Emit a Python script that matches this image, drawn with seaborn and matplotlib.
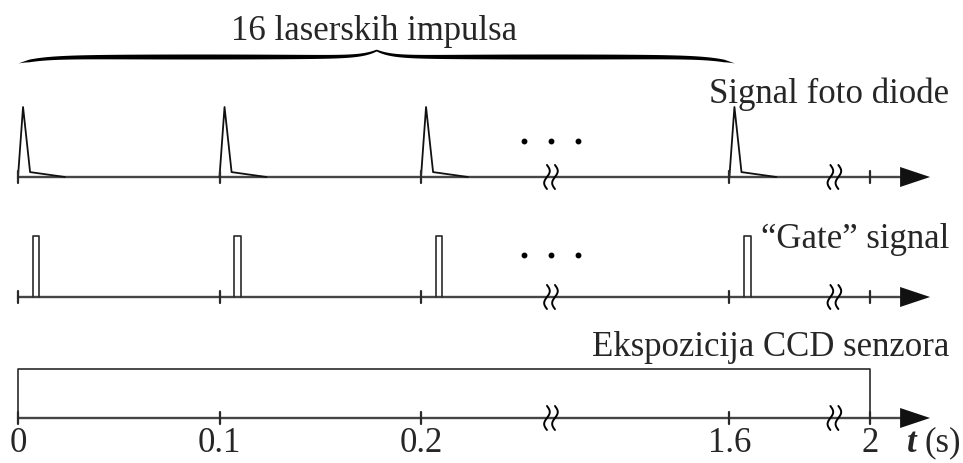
import numpy as np
import pandas as pd
import matplotlib
matplotlib.use('Agg')
import matplotlib.pyplot as plt
import seaborn as sns

# Vremenski dijagram: impulsi lasera, "gate" signal i ekspozicija CCD-a
pulse_times = [0.0, 0.1, 0.2, 1.6]          # s
tick_times = [0.0, 0.1, 0.2, 1.6, 2.0]
tick_labels = ['0', '0.1', '0.2', '1.6', '2']
exposure_window = [0.0, 2.0]

# oblik impulsa foto diode: pomak od pocetka impulsa (s) i relativna amplituda
pd_dt = [0.0, 0.0025, 0.006, 0.0233]
pd_amp = [0.0, 1.0, 0.07, 0.0]

gate_delay = 0.0074    # s
gate_width = 0.0032    # s

row_labels = ['Signal foto diode', '\u201cGate\u201d signal', 'Ekspozicija CCD senzora']
brace_label = '16 laserskih impulsa'

# --- raspored (prekinuta vremenska os) ---
W, H = 963, 463
PX = 2015.0                  # px po sekundi na linearnim dijelovima
X0 = 18                      # px gdje je t = 0
breaks = [(0.2645, 1.5127), (1.6521, 1.9826)]
rows_y = [177, 297, 418]
sig_h = [70, 61, 49]


def fwd(t):
    t = np.asarray(t, dtype=float)
    u = t.copy()
    for a, b in breaks:
        u = u - 0.999 * (np.clip(t, a, b) - a)
    return u


_anchor_t = np.array([-10.0] + [v for ab in breaks for v in ab] + [10.0])
_anchor_u = fwd(_anchor_t)


def inv(u):
    return np.interp(np.asarray(u, dtype=float), _anchor_u, _anchor_t)


def shift(t, dpx):
    return inv(fwd(t) + np.asarray(dpx, dtype=float) / PX)


sns.set_theme(style='white')
plt.rcParams['font.family'] = ['Liberation Serif', 'DejaVu Serif']

fig = plt.figure(figsize=(W / 100, H / 100), dpi=100)
ax = fig.add_axes([0, 0, 1, 1])
ax.set_xscale('function', functions=(fwd, inv))

AX_C = '#454545'
FS = 25

# signali kao tablica za seaborn
recs = []
for i, t0 in enumerate(pulse_times):
    for dt, a in zip(pd_dt, pd_amp):
        recs.append({'sig': 'pd', 'pulse': i, 't': t0 + dt, 'y': rows_y[0] - a * sig_h[0]})
    g0 = t0 + gate_delay
    for tt, a in zip([g0, g0, g0 + gate_width, g0 + gate_width], [0, 1, 1, 0]):
        recs.append({'sig': 'gate', 'pulse': i, 't': tt, 'y': rows_y[1] - a * sig_h[1]})
e0, e1 = exposure_window
for tt, a in zip([e0, e0, e1, e1], [0, 1, 1, 0]):
    recs.append({'sig': 'exp', 'pulse': 0, 't': tt, 'y': rows_y[2] - a * sig_h[2]})
df = pd.DataFrame(recs)

sns.lineplot(data=df[df.sig == 'pd'], x='t', y='y', units='pulse', estimator=None,
             sort=False, color='#111111', lw=1.3, ax=ax, legend=False)
sns.lineplot(data=df[df.sig == 'gate'], x='t', y='y', units='pulse', estimator=None,
             sort=False, color='#2a2a2a', lw=1.2, ax=ax, legend=False)
sns.lineplot(data=df[df.sig == 'exp'], x='t', y='y', units='pulse', estimator=None,
             sort=False, color='#2a2a2a', lw=1.2, ax=ax, legend=False)

# osi, oznake, prekidi i strelice
arrow_base = shift(tick_times[-1], 30)
arrow_tip = shift(tick_times[-1], 60)
for r, y0 in enumerate(rows_y):
    ax.plot([tick_times[0], arrow_base], [y0, y0], color=AX_C, lw=1.7, zorder=1)
    ax.fill([arrow_base, arrow_base, arrow_tip], [y0 - 10, y0 + 10, y0],
            color='#111111', lw=0, zorder=3)
    for tt in tick_times:
        ax.plot([tt, tt], [y0 - 6, y0 + 6], color='#2a2a2a', lw=1.6, zorder=2)
    yy = np.linspace(-12, 12, 60)
    for a, _ in breaks:
        for off in (-4, 4):
            ax.plot(shift(a, off - 2.8 * np.sin(np.pi * yy / 12)), y0 + yy,
                    color='black', lw=1.4, zorder=4)

# tri tocke iznad prvog prekida
for y0, d in zip(rows_y[:2], [36, 42]):
    ax.plot(shift(breaks[0][0], [-27, 0, 27]), [y0 - d] * 3, ls='none',
            marker='o', ms=3.2, color='black')

# viticasta zagrada iznad impulsa
xl, xr = X0, X0 + fwd(pulse_times[-1] + 0.0025) * PX
xm = (xl + xr) / 2
xs = np.linspace(xl, xr, 800)
left = xs <= xm
yc = np.where(left,
              56.5 + 6.5 * np.exp(-(xs - xl) / 22) - 6.5 * np.exp(-(xm - xs) / 14),
              56.5 + 6.5 * np.exp(-(xr - xs) / 22) - 6.5 * np.exp(-(xs - xm) / 14))
s = np.where(left, (xs - xl) / (xm - xl), (xr - xs) / (xr - xm))
w = (1.6 + 3.4 * np.sin(np.pi * s) ** 0.5) * np.clip(s / 0.03, 0, 1)
tb = inv((xs - X0) / PX)
ax.fill_between(tb, yc - w / 2, yc + w / 2, color='black', lw=0)
ax.text(inv((xm - 2 - X0) / PX), 31, brace_label, ha='center', va='center', fontsize=FS)

# natpisi redova
for lab, y in zip(row_labels, [94, 240, 348]):
    ax.text(shift(tick_times[-1], 79), y, lab, ha='right', va='center', fontsize=FS)

# oznake vremena
for tt, lab in zip(tick_times, tick_labels):
    ax.text(tt, 443, lab, ha='center', va='center', fontsize=FS)
ax.text(shift(tick_times[-1], 42), 443, 't', ha='center', va='center', fontsize=FS,
        fontweight='bold', fontstyle='italic')
ax.text(shift(tick_times[-1], 54), 443, '(s)', ha='left', va='center', fontsize=FS)

ax.set_xlim(inv(-X0 / PX), inv((W - X0) / PX))
ax.set_ylim(H, 0)
ax.set_axis_off()

fig.savefig('out.png', dpi=100, facecolor='white')
